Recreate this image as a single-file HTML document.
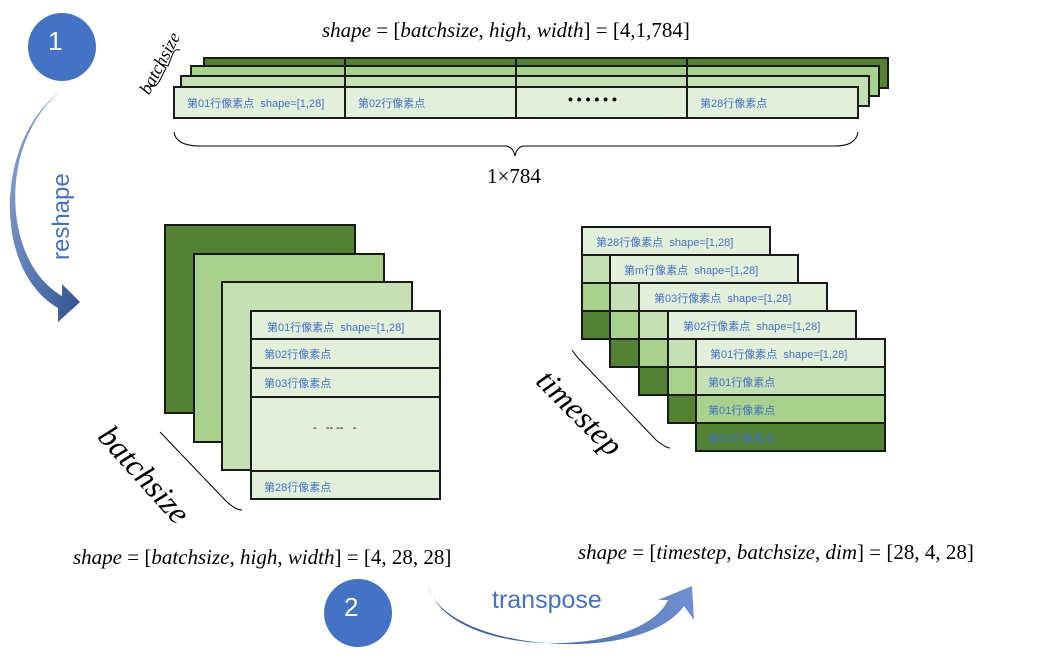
<!DOCTYPE html>
<html><head><meta charset="utf-8"><style>
body{margin:0;width:1047px;height:657px;background:#fff;position:relative;overflow:hidden;font-family:"Liberation Sans","Noto Sans CJK SC",sans-serif}
.b{position:absolute;box-sizing:border-box;border:2px solid #1a1a1a}
.t{position:absolute;font-size:11px;color:#4472C4;white-space:nowrap}
.m{position:absolute;font-family:"Liberation Serif",serif;font-size:21px;white-space:nowrap;color:#000}
.m i{font-style:italic}
</style></head><body>
<svg width="1047" height="657" style="position:absolute;left:0;top:0">
<defs><linearGradient id="g" x1="0" y1="0" x2="1" y2="1"><stop offset="0" stop-color="#8fa9dc"/><stop offset="1" stop-color="#2f528f"/></linearGradient>
<linearGradient id="g2" x1="0" y1="0" x2="1" y2="0"><stop offset="0" stop-color="#2f528f"/><stop offset="1" stop-color="#6f8fd0"/></linearGradient></defs>
<circle cx="62" cy="47" r="34" fill="#4472C4"/>
<circle cx="358" cy="613" r="34" fill="#4472C4"/>
<path d="M60 92 C0 140 0 260 62 296 L62 284 L80 302 L58 322 L58 308 C-8 270 -5 140 60 92 Z" fill="url(#g)"/>
<path d="M428 584 C445 660 640 660 668 600 L658 600 L692 586 L694 620 L684 606 C640 668 440 650 428 584 Z" fill="url(#g2)"/>
<path d="M174 132 Q176 146 200 146 L505 146 Q513 146 515 156 Q517 146 525 146 L835 146 Q856 146 858 132" fill="none" stroke="#000" stroke-width="1"/>
<path d="M180 50 Q174 48 172 56 L168 66 L161 64 L166 68 L160 80 Q156 88 150 86" fill="none" stroke="#000" stroke-width="1"/>
<path d="M160 432 L225 500 Q235 510 242 510" fill="none" stroke="#000" stroke-width="1"/>
<path d="M572 350 Q576 356 580 360 L656 440 Q666 448 670 448" fill="none" stroke="#000" stroke-width="1"/>
</svg>
<div style="position:absolute;left:48px;top:26px;font-size:26px;color:#fff">1</div>
<div style="position:absolute;left:344px;top:592px;font-size:26px;color:#fff">2</div>
<div style="position:absolute;left:48px;top:260px;font-size:24px;color:#4472C4;transform:rotate(-90deg);transform-origin:0 0">reshape</div>
<div style="position:absolute;left:492px;top:586px;font-size:25px;color:#4472C4">transpose</div>
<div class="m" style="left:322px;top:18px"><i>shape</i> = [<i>batchsize</i>, <i>high</i>, <i>width</i>] = [4,1,784]</div>
<div class="m" style="left:487px;top:164px">1×784</div>
<div class="m" style="left:73px;top:545px"><i>shape</i> = [<i>batchsize</i>, <i>high</i>, <i>width</i>] = [4, 28, 28]</div>
<div class="m" style="left:578px;top:540px"><i>shape</i> = [<i>timestep</i>, <i>batchsize</i>, <i>dim</i>] = [28, 4, 28]</div>
<div class="m" style="left:135px;top:88px;font-size:18px;transform:rotate(-62deg);transform-origin:0 0"><i>batchsize</i></div>
<div class="m" style="left:118px;top:418px;font-size:32px;transform:rotate(48deg);transform-origin:0 0"><i>batchsize</i></div>
<div class="m" style="left:555px;top:362px;font-size:32px;transform:rotate(45deg);transform-origin:0 0"><i>timestep</i></div>
<!-- top stack -->
<div class="b" style="left:203px;top:57px;width:686px;height:32px;background:#548235"></div>
<div class="b" style="left:190px;top:65px;width:690px;height:32px;background:#A9D18E"></div>
<div class="b" style="left:180px;top:75px;width:690px;height:32px;background:#C5E0B4"></div>
<div class="b" style="left:173px;top:86px;width:686px;height:33px;background:#E2EFDA"></div>
<div style="position:absolute;left:344px;top:57px;width:2px;height:60px;background:#1a1a1a"></div>
<div style="position:absolute;left:515px;top:57px;width:2px;height:60px;background:#1a1a1a"></div>
<div style="position:absolute;left:686px;top:57px;width:2px;height:60px;background:#1a1a1a"></div>
<div class="t" style="left:187px;top:95px">第01行像素点 &nbsp;shape=[1,28]</div>
<div class="t" style="left:358px;top:95px">第02行像素点</div>
<div class="t" style="left:568px;top:91px;color:#000;font-size:14px;font-weight:bold">• • • • • •</div>
<div class="t" style="left:700px;top:95px">第28行像素点</div>
<!-- left stack -->
<div class="b" style="left:164px;top:224px;width:192px;height:190px;background:#548235"></div>
<div class="b" style="left:193px;top:253px;width:192px;height:190px;background:#A9D18E"></div>
<div class="b" style="left:221px;top:281px;width:192px;height:190px;background:#C5E0B4"></div>
<div class="b" style="left:250px;top:310px;width:191px;height:30px;background:#E2EFDA"></div>
<div class="b" style="left:250px;top:338px;width:191px;height:31px;background:#E2EFDA"></div>
<div class="b" style="left:250px;top:367px;width:191px;height:31px;background:#E2EFDA"></div>
<div class="b" style="left:250px;top:396px;width:191px;height:76px;background:#E2EFDA"></div>
<div class="b" style="left:250px;top:470px;width:191px;height:30px;background:#E2EFDA"></div>
<div class="t" style="left:267px;top:319px">第01行像素点 &nbsp;shape=[1,28]</div>
<div class="t" style="left:264px;top:346px">第02行像素点</div>
<div class="t" style="left:264px;top:375px">第03行像素点</div>
<div class="t" style="left:313px;top:422px;color:#000">-&nbsp;&nbsp; -- -- &nbsp;&nbsp;-</div>
<div class="t" style="left:264px;top:479px">第28行像素点</div>
<!-- right stack -->
<div class="b" style="left:581px;top:226px;width:190px;height:30px;background:#E2EFDA"></div>
<div class="b" style="left:581px;top:254px;width:190px;height:30px;background:#C5E0B4"></div>
<div class="b" style="left:581px;top:282px;width:190px;height:30px;background:#A9D18E"></div>
<div class="b" style="left:581px;top:310px;width:190px;height:30px;background:#548235"></div>
<div class="b" style="left:609px;top:254px;width:190px;height:30px;background:#E2EFDA"></div>
<div class="b" style="left:609px;top:282px;width:190px;height:30px;background:#C5E0B4"></div>
<div class="b" style="left:609px;top:310px;width:190px;height:30px;background:#A9D18E"></div>
<div class="b" style="left:609px;top:338px;width:190px;height:30px;background:#548235"></div>
<div class="b" style="left:638px;top:282px;width:190px;height:30px;background:#E2EFDA"></div>
<div class="b" style="left:638px;top:310px;width:190px;height:30px;background:#C5E0B4"></div>
<div class="b" style="left:638px;top:338px;width:190px;height:30px;background:#A9D18E"></div>
<div class="b" style="left:638px;top:366px;width:190px;height:30px;background:#548235"></div>
<div class="b" style="left:667px;top:310px;width:190px;height:30px;background:#E2EFDA"></div>
<div class="b" style="left:667px;top:338px;width:190px;height:30px;background:#C5E0B4"></div>
<div class="b" style="left:667px;top:366px;width:190px;height:30px;background:#A9D18E"></div>
<div class="b" style="left:667px;top:394px;width:190px;height:30px;background:#548235"></div>
<div class="b" style="left:695px;top:338px;width:191px;height:30px;background:#E2EFDA"></div>
<div class="b" style="left:695px;top:366px;width:191px;height:30px;background:#C5E0B4"></div>
<div class="b" style="left:695px;top:394px;width:191px;height:30px;background:#A9D18E"></div>
<div class="b" style="left:695px;top:422px;width:191px;height:30px;background:#548235"></div>
<div class="t" style="left:596px;top:234px">第28行像素点 &nbsp;shape=[1,28]</div>
<div class="t" style="left:624px;top:262px">第m行像素点 &nbsp;shape=[1,28]</div>
<div class="t" style="left:654px;top:290px">第03行像素点 &nbsp;shape=[1,28]</div>
<div class="t" style="left:683px;top:318px">第02行像素点 &nbsp;shape=[1,28]</div>
<div class="t" style="left:710px;top:346px">第01行像素点 &nbsp;shape=[1,28]</div>
<div class="t" style="left:708px;top:374px">第01行像素点</div>
<div class="t" style="left:708px;top:402px">第01行像素点</div>
<div class="t" style="left:708px;top:430px">第01行像素点</div>
</body></html>
